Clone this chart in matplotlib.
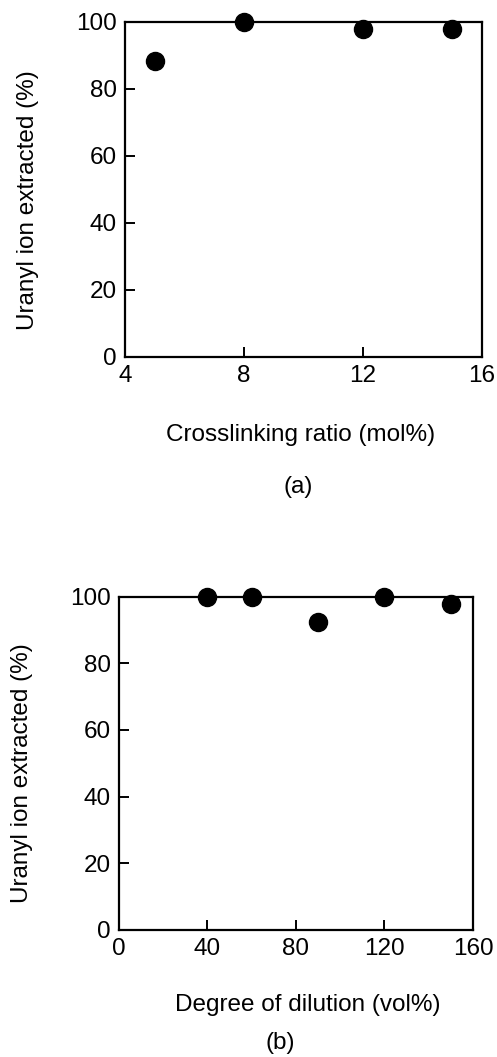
import matplotlib
matplotlib.use("Agg")
import matplotlib.pyplot as plt

plt.rcParams["font.family"] = ["Liberation Sans", "DejaVu Sans"]

# (a) crosslinking ratio
crosslink_mol = [5, 8, 12, 15]
extracted_a = [88.4, 100, 97.8, 97.8]

# (b) degree of dilution
dilution_vol = [40, 60, 90, 120, 150]
extracted_b = [100, 100, 92.3, 100, 97.8]

YLABEL = "Uranyl ion extracted (%)"
FS = 17.5


def style_axis(ax):
    for sp in ax.spines.values():
        sp.set_linewidth(1.6)
    ax.tick_params(direction="in", length=7, width=1.4, labelsize=FS,
                   top=False, right=False, pad=6)
    ax.set_ylim(0, 100)
    ax.set_yticks([0, 20, 40, 60, 80, 100])


fig = plt.figure(figsize=(4.97, 10.57), dpi=100)

ax_a = fig.add_axes([0.2515, 0.6623, 0.718, 0.317])
ax_a.plot(crosslink_mol, extracted_a, "o", color="black", ms=13, clip_on=False)
ax_a.set_xlim(4, 16)
ax_a.set_xticks([4, 8, 12, 16])
style_axis(ax_a)
fig.text(0.057, 0.811, YLABEL, rotation=90, ha="center", va="center", fontsize=FS)
fig.text(0.604, 0.5885, "Crosslinking ratio (mol%)", ha="center", va="center", fontsize=FS)
fig.text(0.600, 0.539, "(a)", ha="center", va="center", fontsize=FS)

ax_b = fig.add_axes([0.2394, 0.1202, 0.7123, 0.3153])
ax_b.plot(dilution_vol, extracted_b, "o", color="black", ms=13, clip_on=False)
ax_b.set_xlim(0, 160)
ax_b.set_xticks([0, 40, 80, 120, 160])
style_axis(ax_b)
fig.text(0.045, 0.2687, YLABEL, rotation=90, ha="center", va="center", fontsize=FS)
fig.text(0.62, 0.049, "Degree of dilution (vol%)", ha="center", va="center", fontsize=FS)
fig.text(0.563, 0.013, "(b)", ha="center", va="center", fontsize=FS)

fig.savefig("out.png", dpi=100)
